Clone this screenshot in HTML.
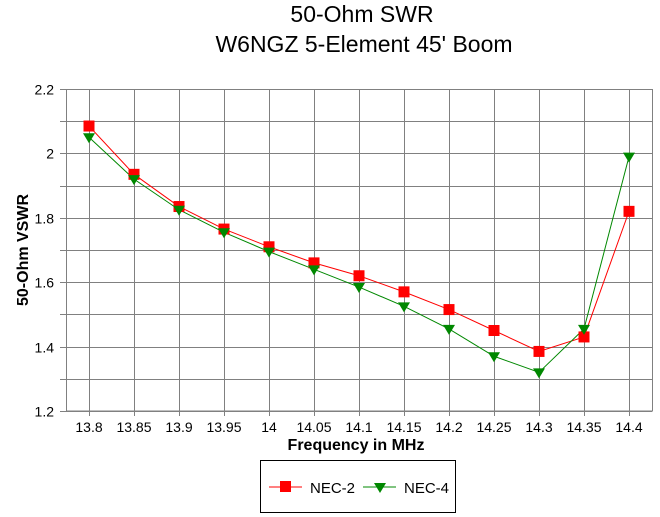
<!DOCTYPE html>
<html><head><meta charset="utf-8"><style>body{margin:0;background:#fff}svg{display:block}text{font-family:"Liberation Sans",Arial,sans-serif}</style></head>
<body>
<svg width="660" height="517" viewBox="0 0 660 517" xmlns="http://www.w3.org/2000/svg">
<text x="362" y="22" font-size="23" text-anchor="middle">50-Ohm SWR</text>
<text x="364" y="52" font-size="23" text-anchor="middle">W6NGZ 5-Element 45' Boom</text>
<g id="grid" stroke="#808080" stroke-width="1" fill="none"></g>
<g id="labels" font-size="14"></g>
<text x="356" y="450" font-size="16" font-weight="bold" text-anchor="middle">Frequency in MHz</text>
<text transform="translate(28,250) rotate(-90)" font-size="16" font-weight="bold" text-anchor="middle">50-Ohm VSWR</text>
<g id="series"></g>
<rect x="260.5" y="460.5" width="195" height="52" fill="none" stroke="#000"/>
<line x1="269" y1="487" x2="302" y2="487" stroke="#f00"/>
<rect x="280" y="481" width="11" height="11" fill="#f00"/>
<text x="310" y="493" font-size="15">NEC-2</text>
<line x1="363" y1="487" x2="396" y2="487" stroke="#080"/>
<polygon points="374,483 386,483 380,493" fill="#080"/>
<text x="404" y="493" font-size="15">NEC-4</text>
</svg>
<script>
var ns="http://www.w3.org/2000/svg",g=document.getElementById("grid"),L=document.getElementById("labels"),S=document.getElementById("series");
function el(p,t,a,txt){var e=document.createElementNS(ns,t);for(var k in a)e.setAttribute(k,a[k]);if(txt)e.textContent=txt;p.appendChild(e);return e;}
function Y(v){return 411-(v-1.2)*322;}
function X(i){return 89+45*i;}
el(g,"rect",{x:66.5,y:89.5,width:586,height:321.5});
for(var j=0;j<=10;j++){var y=Math.round(Y(1.2+j*0.1))+0.5;el(g,"line",{x1:60,y1:y,x2:652,y2:y});
 if(j%2==0)el(L,"text",{x:54,y:y+5,"text-anchor":"end"},(1.2+j*0.1).toFixed(1).replace(/\.0$/,""));}
var xl=["13.8","13.85","13.9","13.95","14","14.05","14.1","14.15","14.2","14.25","14.3","14.35","14.4"];
for(var i=0;i<13;i++){var x=X(i)+0.5;el(g,"line",{x1:x,y1:89,x2:x,y2:416});el(L,"text",{x:X(i),y:432,"text-anchor":"middle"},xl[i]);}
var a=[2.085,1.935,1.835,1.765,1.71,1.66,1.62,1.57,1.515,1.45,1.385,1.43,1.82];
var b=[2.05,1.92,1.825,1.755,1.695,1.64,1.585,1.525,1.455,1.37,1.32,1.455,1.99];
el(S,"polyline",{points:a.map(function(v,i){return X(i)+","+Y(v)}).join(" "),fill:"none",stroke:"#f00"});
el(S,"polyline",{points:b.map(function(v,i){return X(i)+","+Y(v)}).join(" "),fill:"none",stroke:"#080"});
a.forEach(function(v,i){el(S,"rect",{x:X(i)-5.5,y:Y(v)-5.5,width:11,height:11,fill:"#f00"});});
b.forEach(function(v,i){var x=X(i),y=Y(v);el(S,"polygon",{points:(x-6)+","+(y-4)+" "+(x+6)+","+(y-4)+" "+x+","+(y+6),fill:"#080"});});
</script>
</body></html>
